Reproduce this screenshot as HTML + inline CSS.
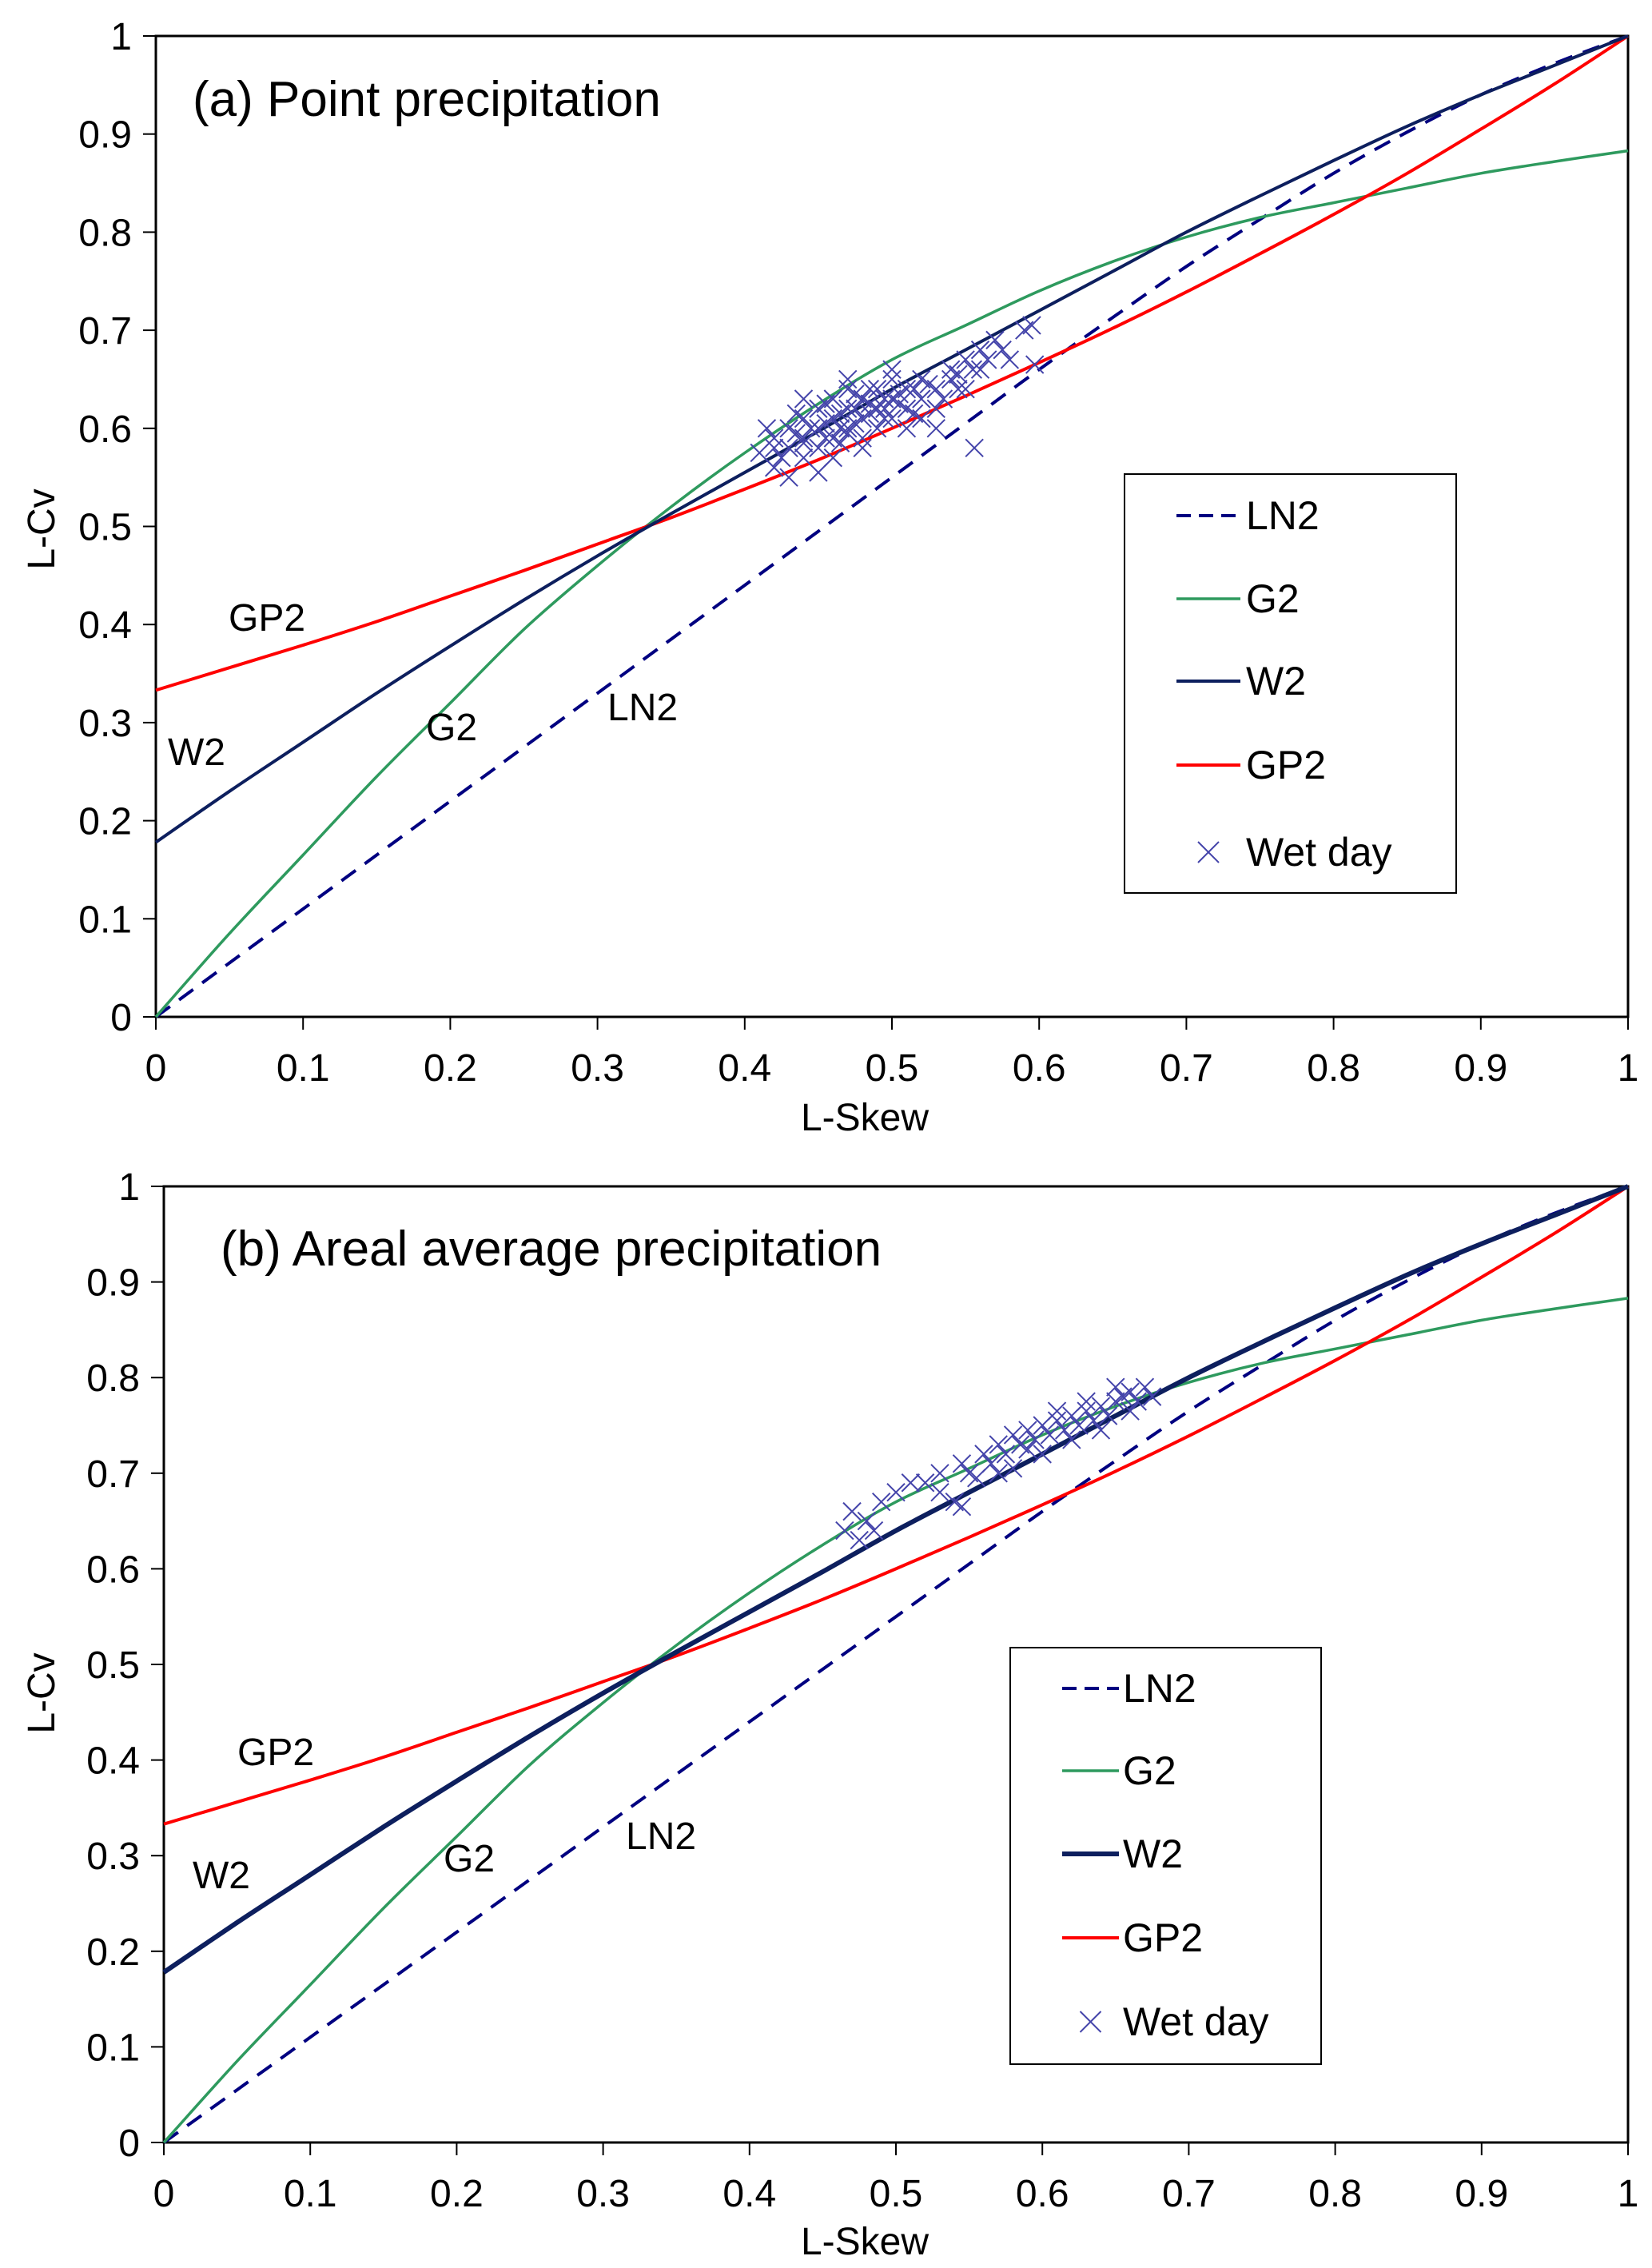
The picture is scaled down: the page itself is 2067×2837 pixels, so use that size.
<!DOCTYPE html>
<html><head><meta charset="utf-8"><style>
html,body{margin:0;padding:0;background:#fff;}
svg{display:block;font-family:"Liberation Sans",Arial,sans-serif;}
</style></head><body>
<svg id="fig" width="2067" height="2837" viewBox="0 0 2067 2837" xmlns="http://www.w3.org/2000/svg"></svg>
<script>
const tauGrid = [0,.05,.1,.15,.2,.25,.3,.35,.4,.45,.5,.55,.6,.65,.7,.75,.8,.85,.9,.95,1];
const ln2Vals = [0,.055,.11,.165,.22,.275,.33,.385,.44,.495,.55,.605,.66,.713,.765,.813,.86,.902,.94,.972,1];
const g2Vals = [0,.085,.165,.245,.32,.395,.46,.52,.575,.625,.67,.705,.74,.77,.795,.815,.83,.845,.86,.872,.883];
const w2Vals = [.178,.23,.28,.33,.378,.425,.47,.513,.555,.597,.64,.68,.72,.76,.8,.837,.873,.908,.94,.97,1];
const gp2Vals = [.333,.356,.379,.403,.429,.455,.482,.509,.538,.568,.6,.633,.667,.702,.739,.778,.818,.86,.905,.951,1];
const xTicks = ["0","0.1","0.2","0.3","0.4","0.5","0.6","0.7","0.8","0.9","1"];
const yTicks = ["0","0.1","0.2","0.3","0.4","0.5","0.6","0.7","0.8","0.9","1"];
const wetA = [[.41,.575],[.42,.56],[.42,.59],[.43,.60],[.43,.58],[.44,.61],[.44,.59],[.44,.57],[.45,.62],[.45,.60],[.45,.58],[.46,.61],[.46,.63],[.46,.59],[.47,.62],[.47,.60],[.47,.64],[.48,.61],[.48,.63],[.48,.59],[.49,.62],[.49,.64],[.49,.60],[.50,.63],[.50,.61],[.50,.65],[.51,.62],[.51,.64],[.52,.63],[.52,.65],[.52,.61],[.53,.64],[.53,.62],[.54,.65],[.54,.66],[.55,.67],[.55,.64],[.56,.68],[.56,.66],[.57,.69],[.58,.67],[.59,.70],[.595,.705],[.597,.665],[.556,.58],[.43,.55],[.46,.57],[.48,.58],[.51,.60],[.415,.60],[.44,.63],[.47,.65],[.50,.66],[.42,.58],[.45,.555],[.53,.60],[.545,.655],[.575,.68],
[.435,.595],[.445,.60],[.455,.605],[.465,.615],[.475,.62],[.485,.625],[.495,.63],[.505,.635],[.515,.64],[.455,.625],[.465,.60],[.475,.605],[.485,.615],[.495,.62],[.505,.625],[.425,.57],[.435,.615],[.465,.585],[.475,.635],[.485,.64],[.495,.61],[.515,.615],[.525,.645],[.535,.63],[.545,.64],[.555,.66],[.565,.67],[.44,.585],[.455,.59],[.47,.595]];
const wetB = [[.465,.64],[.47,.66],[.48,.65],[.475,.63],[.49,.67],[.51,.69],[.52,.69],[.53,.70],[.54,.67],[.545,.71],[.55,.70],[.56,.72],[.565,.71],[.57,.73],[.575,.72],[.58,.74],[.585,.73],[.59,.745],[.595,.735],[.60,.75],[.605,.74],[.61,.755],[.615,.745],[.62,.76],[.625,.75],[.63,.765],[.635,.755],[.64,.77],[.645,.76],[.65,.775],[.655,.78],[.66,.785],[.665,.775],[.67,.79],[.675,.78],[.58,.705],[.60,.72],[.62,.735],[.64,.745],[.66,.765],[.555,.695],[.59,.725],[.63,.775],[.65,.79],[.61,.765],[.53,.68],[.50,.68],[.485,.64],[.57,.70],[.545,.665]];

const NS="http://www.w3.org/2000/svg";
const svg=document.getElementById('fig');
function mk(tag,attrs,parent){const e=document.createElementNS(NS,tag);for(const k in attrs)e.setAttribute(k,attrs[k]);(parent||svg).appendChild(e);return e;}
function smooth(pts){let d='M'+pts[0][0].toFixed(1)+' '+pts[0][1].toFixed(1);
 for(let i=0;i<pts.length-1;i++){const p0=pts[i-1]||pts[i],p1=pts[i],p2=pts[i+1],p3=pts[i+2]||p2;
  const c1=[p1[0]+(p2[0]-p0[0])/6,p1[1]+(p2[1]-p0[1])/6],c2=[p2[0]-(p3[0]-p1[0])/6,p2[1]-(p3[1]-p1[1])/6];
  d+=` C${c1[0].toFixed(1)} ${c1[1].toFixed(1)} ${c2[0].toFixed(1)} ${c2[1].toFixed(1)} ${p2[0].toFixed(1)} ${p2[1].toFixed(1)}`;}
 return d;}

const panels=[
 {id:'a',L:195,R:2037,T:45,B:1272,title:'(a) Point precipitation',tx:241,ty:145,wet:wetA,w2w:4,
  lab:{GP2:[286,789],W2:[210,957],G2:[533,926],LN2:[760,901]},
  leg:{x:1407,y:593,w:415,h:524,rows:[645,749,852,957,1066],l1:1472,l2:1552,tx:1559},
  xt:1414,yt:662},
 {id:'b',L:205,R:2037,T:1484,B:2680,title:'(b) Areal average precipitation',tx:276,ty:1583,wet:wetB,w2w:6,
  lab:{GP2:[297,2208],W2:[241,2362],G2:[555,2341],LN2:[783,2313]},
  leg:{x:1264,y:2061,w:389,h:521,rows:[2112,2215,2319,2424,2529],l1:1329,l2:1400,tx:1405},
  xt:2820,yt:2118}
];
const styles={LN2:{c:'#000080',dash:'22 14',w:4},G2:{c:'#2e9a5e',w:3.5},W2:{c:'#0d1f5e',w:4},GP2:{c:'#ff0000',w:4}};
const mcol='#4444aa';

panels.forEach(p=>{
 const g=mk('g',{});
 
 
 const sx=v=>p.L+v*(p.R-p.L), sy=v=>p.B-v*(p.B-p.T);
 const frame=mk('rect',{x:p.L,y:p.T,width:p.R-p.L,height:p.B-p.T,fill:'none',stroke:'#000','stroke-width':3},g);
 
 
 xTicks.forEach((t,i)=>{const v=i/10;
  mk('line',{x1:sx(v),x2:sx(v),y1:p.B,y2:p.B+16,stroke:'#000','stroke-width':2},g);
  const tx=mk('text',{x:sx(v),y:p.B+80,'font-size':48,'text-anchor':'middle',fill:'#000'},g);tx.textContent=t;
  
  
 });
 yTicks.forEach((t,i)=>{const v=i/10;
  mk('line',{x1:p.L-16,x2:p.L,y1:sy(v),y2:sy(v),stroke:'#000','stroke-width':2},g);
  const tx=mk('text',{x:p.L-30,y:sy(v)+17,'font-size':48,'text-anchor':'end',fill:'#000'},g);tx.textContent=t;
  
  
 });
 const series={LN2:ln2Vals,G2:g2Vals,W2:w2Vals,GP2:gp2Vals};
 ['LN2','G2','GP2','W2'].forEach(k=>{
  const s=styles[k];
  const d=smooth(tauGrid.map((t,i)=>[sx(t),sy(series[k][i])]));
  const pa=mk('path',{d:d,fill:'none',stroke:s.c,'stroke-width':k==='W2'?p.w2w:s.w,'stroke-dasharray':s.dash||'none','stroke-linejoin':'round'},g);
  
  
 });
 p.wet.forEach(pt=>{
  const x=sx(pt[0]),y=sy(pt[1]),r=11;
  const m=mk('path',{d:`M${x-r} ${y-r}L${x+r} ${y+r}M${x-r} ${y+r}L${x+r} ${y-r}`,stroke:mcol,'stroke-width':2,fill:'none'},g);
  
  
 });
 for(const k in p.lab){
  const t=mk('text',{x:p.lab[k][0],y:p.lab[k][1],'font-size':48,fill:'#000'},g);t.textContent=k;
  
  
 }
 const ti=mk('text',{x:p.tx,y:p.ty,'font-size':62,fill:'#000'},g);ti.textContent=p.title;
 
 
 const xl=mk('text',{x:1082,y:p.xt,'font-size':48,'text-anchor':'middle',fill:'#000'},g);xl.textContent='L-Skew';
 
 
 const yl=mk('text',{x:0,y:0,'font-size':48,'text-anchor':'middle',fill:'#000',transform:`translate(68 ${p.yt}) rotate(-90)`},g);yl.textContent='L-Cv';
 
 
 const lg=mk('g',{},g);
 
 
 mk('rect',{x:p.leg.x,y:p.leg.y,width:p.leg.w,height:p.leg.h,fill:'#fff',stroke:'#000','stroke-width':2},lg);
 ['LN2','G2','W2','GP2','Wet day'].forEach((k,i)=>{
  const y=p.leg.rows[i];
  if(k==='Wet day'){const x=(p.leg.l1+p.leg.l2)/2,r=13;
   mk('path',{d:`M${x-r} ${y-r}L${x+r} ${y+r}M${x-r} ${y+r}L${x+r} ${y-r}`,stroke:mcol,'stroke-width':2},lg);}
  else{const s=styles[k];
   mk('line',{x1:p.leg.l1,x2:p.leg.l2,y1:y,y2:y,stroke:s.c,'stroke-width':k==='W2'?p.w2w:s.w,'stroke-dasharray':k==='LN2'?'18 10':'none'},lg);}
  const t=mk('text',{x:p.leg.tx,y:y+17,'font-size':50,fill:'#000'},lg);t.textContent=k;
  
  
 });
});
</script>
</body></html>
